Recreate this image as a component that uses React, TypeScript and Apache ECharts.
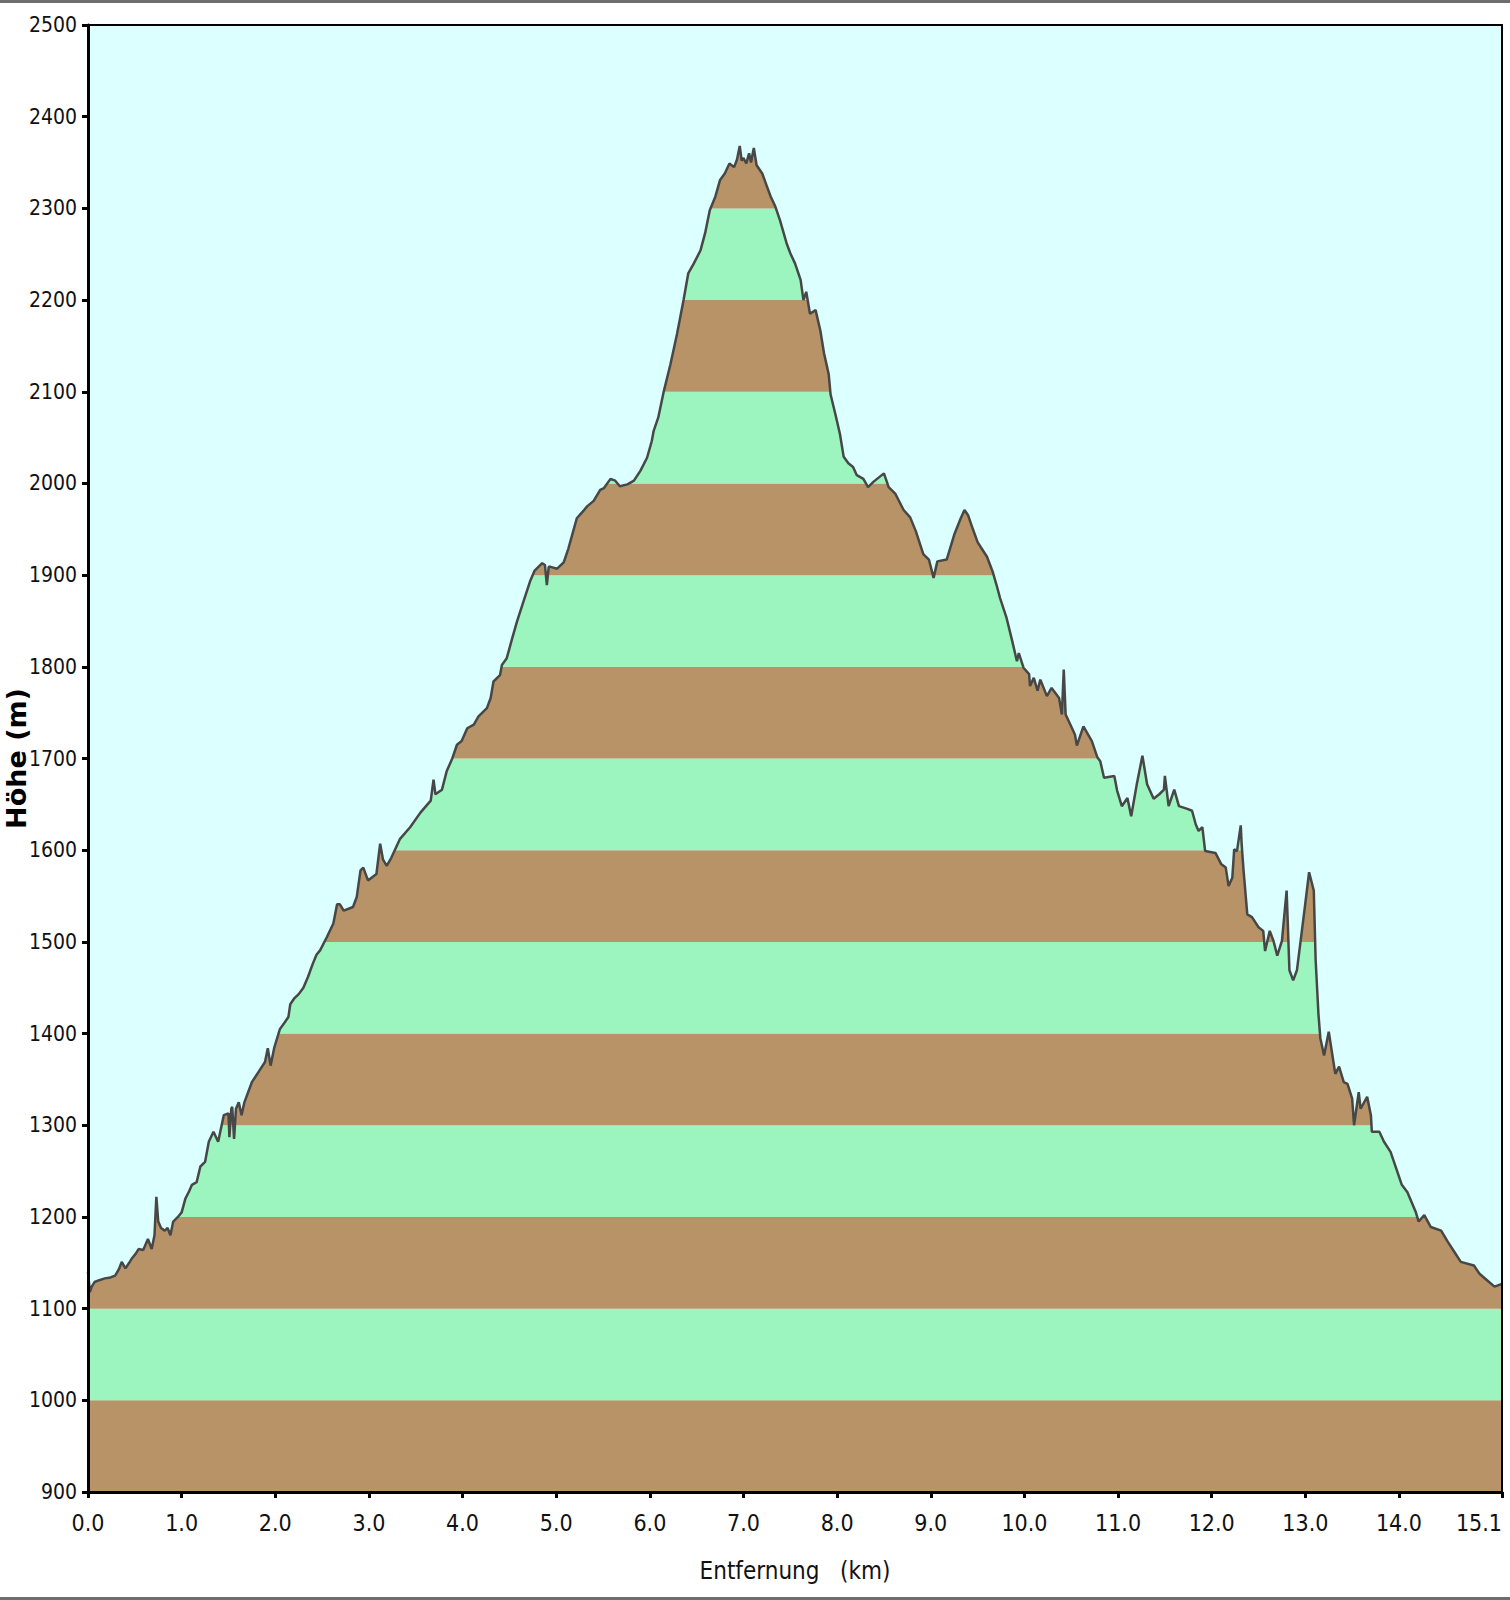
import React, { useEffect, useRef } from 'react';
import * as echarts from 'echarts';

// Distance along the route (km)
const distanceKm = [
  0.00, 0.02, 0.04, 0.07, 0.12, 0.18, 0.24, 0.29, 0.33, 0.36, 0.40, 0.44, 0.47, 0.51, 0.54, 0.59,
  0.64, 0.68, 0.71, 0.73, 0.75, 0.78, 0.82, 0.85, 0.88, 0.91, 0.96, 1.00, 1.04, 1.08, 1.11, 1.16,
  1.20, 1.25, 1.29, 1.34, 1.39, 1.45, 1.50, 1.51, 1.53, 1.54, 1.56, 1.58, 1.61, 1.64, 1.67, 1.71,
  1.75, 1.82, 1.89, 1.92, 1.95, 1.99, 2.05, 2.10, 2.14, 2.16, 2.20, 2.25, 2.30, 2.35, 2.40, 2.44,
  2.48, 2.55, 2.62, 2.66, 2.69, 2.73, 2.83, 2.87, 2.91, 2.94, 2.99, 3.08, 3.12, 3.15, 3.19, 3.24,
  3.33, 3.44, 3.55, 3.66, 3.69, 3.71, 3.78, 3.83, 3.89, 3.94, 3.99, 4.05, 4.12, 4.17, 4.26, 4.30,
  4.33, 4.40, 4.42, 4.47, 4.53, 4.58, 4.65, 4.72, 4.77, 4.85, 4.88, 4.90, 4.92, 4.94, 5.01, 5.08,
  5.13, 5.19, 5.22, 5.29, 5.33, 5.40, 5.47, 5.51, 5.58, 5.63, 5.68, 5.76, 5.83, 5.90, 5.97, 6.02,
  6.04, 6.09, 6.15, 6.22, 6.29, 6.36, 6.41, 6.47, 6.54, 6.59, 6.64, 6.70, 6.75, 6.80, 6.85, 6.90,
  6.93, 6.96, 6.98, 7.00, 7.03, 7.06, 7.08, 7.11, 7.14, 7.20, 7.25, 7.29, 7.34, 7.39, 7.46, 7.50,
  7.55, 7.61, 7.64, 7.67, 7.71, 7.77, 7.82, 7.86, 7.91, 7.93, 7.98, 8.03, 8.07, 8.12, 8.17, 8.21,
  8.28, 8.33, 8.39, 8.50, 8.55, 8.62, 8.71, 8.78, 8.84, 8.92, 8.98, 9.03, 9.07, 9.17, 9.25, 9.32,
  9.36, 9.40, 9.45, 9.50, 9.55, 9.60, 9.66, 9.70, 9.74, 9.81, 9.87, 9.92, 9.94, 9.99, 10.05, 10.06,
  10.10, 10.14, 10.17, 10.24, 10.29, 10.37, 10.40, 10.42, 10.44, 10.49, 10.54, 10.56, 10.63, 10.72, 10.78, 10.81,
  10.85, 10.96, 10.99, 11.04, 11.10, 11.14, 11.20, 11.26, 11.31, 11.38, 11.44, 11.49, 11.50, 11.54, 11.60, 11.65,
  11.74, 11.79, 11.83, 11.86, 11.90, 11.93, 12.04, 12.10, 12.15, 12.18, 12.22, 12.24, 12.27, 12.31, 12.32, 12.34,
  12.38, 12.43, 12.50, 12.55, 12.57, 12.62, 12.66, 12.70, 12.75, 12.80, 12.83, 12.87, 12.91, 12.99, 13.04, 13.09,
  13.11, 13.14, 13.16, 13.20, 13.25, 13.30, 13.32, 13.36, 13.41, 13.45, 13.50, 13.52, 13.57, 13.59, 13.66, 13.70,
  13.71, 13.79, 13.84, 13.91, 13.96, 14.03, 14.09, 14.18, 14.21, 14.27, 14.34, 14.45, 14.52, 14.59, 14.66, 14.80,
  14.86, 14.94, 15.02, 15.10,
];

// Elevation (m)
const elevationM = [
  1140, 1118, 1124, 1129, 1131, 1133, 1134, 1136, 1143, 1151, 1144, 1150, 1155, 1160, 1165, 1164,
  1176, 1165, 1180, 1222, 1195, 1188, 1185, 1188, 1180, 1195, 1200, 1205, 1220, 1228, 1235, 1238,
  1255, 1260, 1282, 1293, 1282, 1311, 1313, 1287, 1318, 1320, 1285, 1318, 1325, 1311, 1325, 1336,
  1347, 1358, 1369, 1384, 1365, 1385, 1405, 1412, 1418, 1432, 1438, 1443, 1450, 1462, 1476, 1486,
  1491, 1505, 1520, 1541, 1541, 1534, 1538, 1549, 1578, 1581, 1567, 1574, 1607, 1590, 1583, 1592,
  1612, 1625, 1641, 1654, 1677, 1661, 1666, 1686, 1700, 1715, 1719, 1733, 1737, 1746, 1755, 1766,
  1784, 1791, 1802, 1809, 1831, 1849, 1871, 1893, 1905, 1913, 1911, 1889, 1909, 1909, 1907, 1914,
  1929, 1951, 1962, 1970, 1975, 1981, 1993, 1995, 2005, 2003, 1997, 1999, 2003, 2014, 2028, 2046,
  2057, 2072, 2101, 2130, 2163, 2200, 2229, 2240, 2254, 2273, 2298, 2313, 2331, 2338, 2349, 2345,
  2353, 2368, 2352, 2355, 2349, 2360, 2350, 2366, 2347, 2338, 2324, 2313, 2302, 2287, 2262, 2251,
  2240, 2222, 2200, 2209, 2185, 2189, 2167, 2142, 2119, 2097, 2076, 2054, 2029, 2022, 2018, 2009,
  2005, 1996, 2002, 2011, 1996, 1989, 1971, 1963, 1948, 1923, 1917, 1897, 1915, 1917, 1944, 1962,
  1971, 1965, 1950, 1936, 1928, 1920, 1904, 1890, 1875, 1853, 1828, 1806, 1815, 1799, 1792, 1779,
  1788, 1774, 1786, 1768, 1777, 1766, 1748, 1797, 1748, 1737, 1726, 1714, 1735, 1719, 1701, 1697,
  1679, 1681, 1665, 1648, 1657, 1637, 1672, 1703, 1672, 1656, 1661, 1666, 1681, 1648, 1666, 1648,
  1645, 1643, 1628, 1621, 1625, 1599, 1597, 1585, 1581, 1561, 1570, 1601, 1599, 1627, 1606, 1578,
  1530, 1527, 1516, 1512, 1490, 1512, 1501, 1485, 1501, 1556, 1469, 1458, 1469, 1534, 1576, 1556,
  1480, 1421, 1395, 1376, 1402, 1369, 1356, 1364, 1347, 1345, 1329, 1300, 1336, 1318, 1331, 1311,
  1293, 1293, 1282, 1271, 1256, 1235, 1227, 1205, 1195, 1202, 1189, 1185, 1173, 1162, 1151, 1147,
  1138, 1131, 1124, 1127,
];

// Axis ticks
const xTickValues = [0, 1, 2, 3, 4, 5, 6, 7, 8, 9, 10, 11, 12, 13, 14, 15.1];
const xMin = 0;
const xMax = 15.1;
const yMin = 900;
const yMax = 2500;
const yStep = 100;

// Coloured elevation bands (lower bound of each 100 m band)
const bandStarts = [900, 1000, 1100, 1200, 1300, 1400, 1500, 1600, 1700, 1800, 1900, 2000, 2100, 2200, 2300, 2400];

const BROWN = '#b99368';
const GREEN = '#9cf5bf';
const SKY = '#dcffff';
const LINE = '#474747';
const NARROW = "'Liberation Sans Narrow', 'Arial Narrow', 'DejaVu Sans Condensed', 'Liberation Sans', sans-serif";

export default function App() {
  const ref = useRef<HTMLDivElement>(null);

  useEffect(() => {
    document.body.style.margin = '0';
    const chart = echarts.init(ref.current!, null, { renderer: 'svg' });
    const profile = distanceKm.map((d, i) => [d, elevationM[i]]);
    const bands = bandStarts.map((lo, i) => [
      { yAxis: lo, itemStyle: { color: i % 2 === 0 ? BROWN : GREEN } },
      { yAxis: lo + yStep },
    ]);

    chart.setOption({
      animation: false,
      backgroundColor: '#ffffff',
      grid: {
        left: 88,
        top: 25,
        right: 8,
        bottom: 108,
        containLabel: false,
        outerBoundsMode: 'none',
        show: true,
        backgroundColor: SKY,
        borderWidth: 0,
      },
      xAxis: [
        {
          type: 'value',
          min: xMin,
          max: xMax,
          z: 10,
          axisLine: { show: true, onZero: false, lineStyle: { color: '#000', width: 3 } },
          axisTick: { show: true, customValues: xTickValues, length: 6, lineStyle: { color: '#000', width: 3 } },
          axisLabel: {
            customValues: xTickValues,
            formatter: (v: number) => v.toFixed(1),
            fontSize: 23,
            fontFamily: NARROW,
            color: '#111',
            margin: 19,
            alignMaxLabel: 'right',
          },
          splitLine: { show: false },
          name: 'Entfernung   (km)',
          nameLocation: 'middle',
          nameGap: 67,
          nameMoveOverlap: false,
          nameTextStyle: { fontSize: 24, fontFamily: NARROW, color: '#111' },
        },
        {
          type: 'value',
          position: 'top',
          min: xMin,
          max: xMax,
          z: 10,
          axisLine: { show: true, onZero: false, lineStyle: { color: '#000', width: 2 } },
          axisTick: { show: false },
          axisLabel: { show: false },
          splitLine: { show: false },
        },
      ],
      yAxis: [
        {
          type: 'value',
          min: yMin,
          max: yMax,
          interval: yStep,
          z: 10,
          axisLine: { show: true, onZero: false, lineStyle: { color: '#000', width: 3 } },
          axisTick: { show: true, length: 6, lineStyle: { color: '#000', width: 3 } },
          axisLabel: {
            fontSize: 21,
            fontFamily: NARROW,
            color: '#111',
            margin: 11,
            formatter: (v: number) => String(v),
          },
          splitLine: { show: false },
          name: 'Höhe (m)',
          nameLocation: 'middle',
          nameGap: 58,
          nameMoveOverlap: false,
          nameTextStyle: { fontSize: 27, fontWeight: 'bold', fontFamily: "'DejaVu Sans', 'Liberation Sans', sans-serif", color: '#000' },
        },
        {
          type: 'value',
          position: 'right',
          min: yMin,
          max: yMax,
          interval: yStep,
          z: 10,
          axisLine: { show: true, onZero: false, lineStyle: { color: '#000', width: 2 } },
          axisTick: { show: false },
          axisLabel: { show: false },
          splitLine: { show: false },
        },
      ],
      graphic: [
        { type: 'rect', left: 0, top: 0, shape: { width: 1510, height: 3 }, style: { fill: '#6e6e6e' } },
        { type: 'rect', left: 0, top: 1597, shape: { width: 1510, height: 3 }, style: { fill: '#6e6e6e' } },
      ],
      series: [
        {
          type: 'line',
          xAxisIndex: 0,
          yAxisIndex: 0,
          data: profile,
          showSymbol: false,
          z: 3,
          lineStyle: { color: LINE, width: 2.5 },
          areaStyle: { origin: 'end', color: SKY, opacity: 1 },
          markArea: {
            silent: true,
            data: bands,
          },
        },
      ],
    });

    return () => chart.dispose();
  }, []);

  return <div ref={ref} style={{ width: 1510, height: 1600 }} />;
}
